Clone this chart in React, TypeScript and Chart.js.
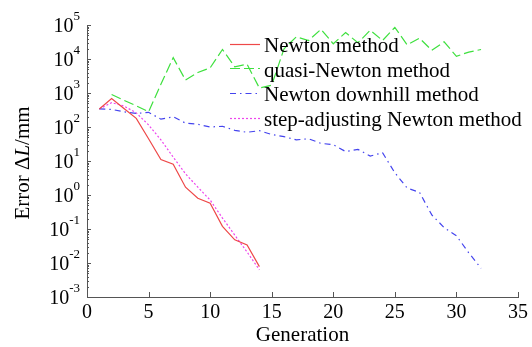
import React, { useEffect, useRef } from 'react';
import { Chart, registerables } from 'chart.js';

Chart.register(...registerables);

const generations = [1, 2, 3, 4, 5, 6, 7, 8, 9, 10, 11, 12, 13, 14, 15, 16, 17, 18, 19, 20, 21, 22, 23, 24, 25, 26, 27, 28, 29, 30, 31, 32];
const newtonMethod = [340, 690, 350, 180, 45, 11, 8.1, 1.7, 0.8, 0.57, 0.12, 0.048, 0.034, 0.0078];
const quasiNewton = [null, 900, 610, 420, 280, 1800, 11000, 2400, 4000, 5500, 19000, 5900, 7000, 1400, 1700, 20000, 45000, 35000, 75000, 28000, 60000, 30000, 70000, 35000, 85000, 26000, 41000, 18000, 32000, 12000, 16000, 19000];
const newtonDownhill = [340, 330, 280, 250, 270, 170, 200, 130, 120, 100, 105, 80, 70, 78, 60, 52, 42, 45, 33, 30, 19, 22, 14, 17.5, 4.5, 1.6, 1.2, 0.26, 0.11, 0.063, 0.02, 0.007];
const stepAdjusting = [340, 520, 415, 260, 115, 42, 13, 4.2, 1.7, 0.71, 0.21, 0.066, 0.021, 0.0063];
const seriesNames = ['Newton method', 'quasi-Newton method', 'Newton downhill method', 'step-adjusting Newton method'];
const xTicks = [0, 5, 10, 15, 20, 25, 30, 35];
const yExponents = [-3, -2, -1, 0, 1, 2, 3, 4, 5];

const SERIF = "'Liberation Serif', 'Times New Roman', serif";
const colors = ['#ee4848', '#3ee03e', '#4444ee', '#ee44ee'];
const dashes: number[][] = [[], [10, 4], [6, 4, 1.5, 4], [2, 2]];

const toPoints = (vals: (number | null)[]) =>
  vals.map((v, i) => ({ x: generations[i], y: v }));

const decorPlugin = {
  id: 'decor',
  afterDraw(chart: any) {
    const ctx = chart.ctx as CanvasRenderingContext2D;
    const xs = chart.scales.x;
    const ys = chart.scales.y;
    const left = chart.chartArea.left;
    const bottom = chart.chartArea.bottom;
    ctx.save();
    ctx.strokeStyle = '#555';
    ctx.lineWidth = 1;
    ctx.setLineDash([]);
    for (const e of yExponents) {
      const y = Math.round(ys.getPixelForValue(Math.pow(10, e))) + 0.5;
      ctx.beginPath();
      ctx.moveTo(left, y);
      ctx.lineTo(left + 4, y);
      ctx.stroke();
      if (e < 5) {
        for (let m = 2; m <= 9; m++) {
          const ym = Math.round(ys.getPixelForValue(m * Math.pow(10, e))) + 0.5;
          ctx.beginPath();
          ctx.moveTo(left, ym);
          ctx.lineTo(left + 2, ym);
          ctx.stroke();
        }
      }
    }
    for (const t of xTicks) {
      const x = Math.round(xs.getPixelForValue(t)) + 0.5;
      ctx.beginPath();
      ctx.moveTo(x, bottom);
      ctx.lineTo(x, bottom - 5);
      ctx.stroke();
    }
    ctx.fillStyle = '#000';
    ctx.textBaseline = 'alphabetic';
    for (const e of yExponents) {
      const y = ys.getPixelForValue(Math.pow(10, e));
      const expText = e < 0 ? '-' + Math.abs(e) : String(e);
      ctx.font = `13px ${SERIF}`;
      const ew = ctx.measureText(expText).width;
      const right = 80;
      ctx.textAlign = 'left';
      ctx.fillText(expText, right - ew, y - 5);
      ctx.font = `20px ${SERIF}`;
      ctx.textAlign = 'right';
      ctx.fillText('10', right - ew, y + 7);
    }
    const parts = [
      { t: 'Error \u0394', f: `21px ${SERIF}` },
      { t: 'L', f: `italic 21px ${SERIF}` },
      { t: '/mm', f: `21px ${SERIF}` },
    ];
    let total = 0;
    for (const p of parts) {
      ctx.font = p.f;
      total += ctx.measureText(p.t).width;
    }
    ctx.translate(29, (chart.chartArea.top + bottom) / 2 + 2);
    ctx.rotate(-Math.PI / 2);
    ctx.textAlign = 'left';
    let cx = -total / 2;
    for (const p of parts) {
      ctx.font = p.f;
      ctx.fillText(p.t, cx, 0);
      cx += ctx.measureText(p.t).width;
    }
    ctx.restore();

    ctx.save();
    ctx.font = `21px ${SERIF}`;
    ctx.textAlign = 'left';
    ctx.textBaseline = 'alphabetic';
    seriesNames.forEach((name, i) => {
      const base = 52 + 24.7 * i;
      const ly = Math.round(base - 8.5) + 0.5;
      ctx.strokeStyle = colors[i];
      ctx.lineWidth = 1.2;
      ctx.setLineDash(dashes[i]);
      ctx.beginPath();
      ctx.moveTo(230, ly);
      ctx.lineTo(260, ly);
      ctx.stroke();
      ctx.fillStyle = '#000';
      ctx.fillText(name, 264, base);
    });
    ctx.restore();
  },
};

export default function App() {
  const ref = useRef<HTMLCanvasElement>(null);
  useEffect(() => {
    if (!ref.current) return;
    const allSeries = [newtonMethod, quasiNewton, newtonDownhill, stepAdjusting];
    const chart = new Chart(ref.current, {
      type: 'line',
      data: {
        datasets: allSeries.map((s, i) => ({
          label: seriesNames[i],
          data: toPoints(s) as any,
          borderColor: colors[i],
          backgroundColor: colors[i],
          borderWidth: 1.2,
          borderDash: dashes[i],
          pointRadius: 0,
          tension: 0,
          fill: false,
        })),
      },
      options: {
        animation: false,
        responsive: false,
        devicePixelRatio: 1,
        layout: { padding: { top: 25, right: 14, left: 0, bottom: 0 } },
        plugins: { legend: { display: false }, tooltip: { enabled: false } },
        scales: {
          x: {
            type: 'linear',
            min: 0,
            max: 35,
            ticks: {
              stepSize: 5,
              autoSkip: false,
              maxRotation: 0,
              padding: 4,
              color: '#000',
              font: { family: SERIF, size: 20 },
            },
            grid: { display: false, drawTicks: false },
            border: { display: true, color: '#555', width: 1 },
            title: {
              display: true,
              text: 'Generation',
              color: '#000',
              font: { family: SERIF, size: 21, lineHeight: 1 },
              padding: { top: 0, bottom: 1 },
            },
            afterFit: (s: any) => {
              s.height = 50;
            },
          },
          y: {
            type: 'logarithmic',
            min: 1e-3,
            max: 1e5,
            ticks: { display: false },
            grid: { display: false, drawTicks: false },
            border: { display: true, color: '#555', width: 1 },
            afterFit: (s: any) => {
              s.width = 87;
            },
          },
        },
      },
      plugins: [decorPlugin],
    });
    return () => chart.destroy();
  }, []);
  return (
    <div style={{ position: 'absolute', left: 0, top: 0, width: 532, height: 347, background: '#fff' }}>
      <canvas ref={ref} width={532} height={347} />
    </div>
  );
}
